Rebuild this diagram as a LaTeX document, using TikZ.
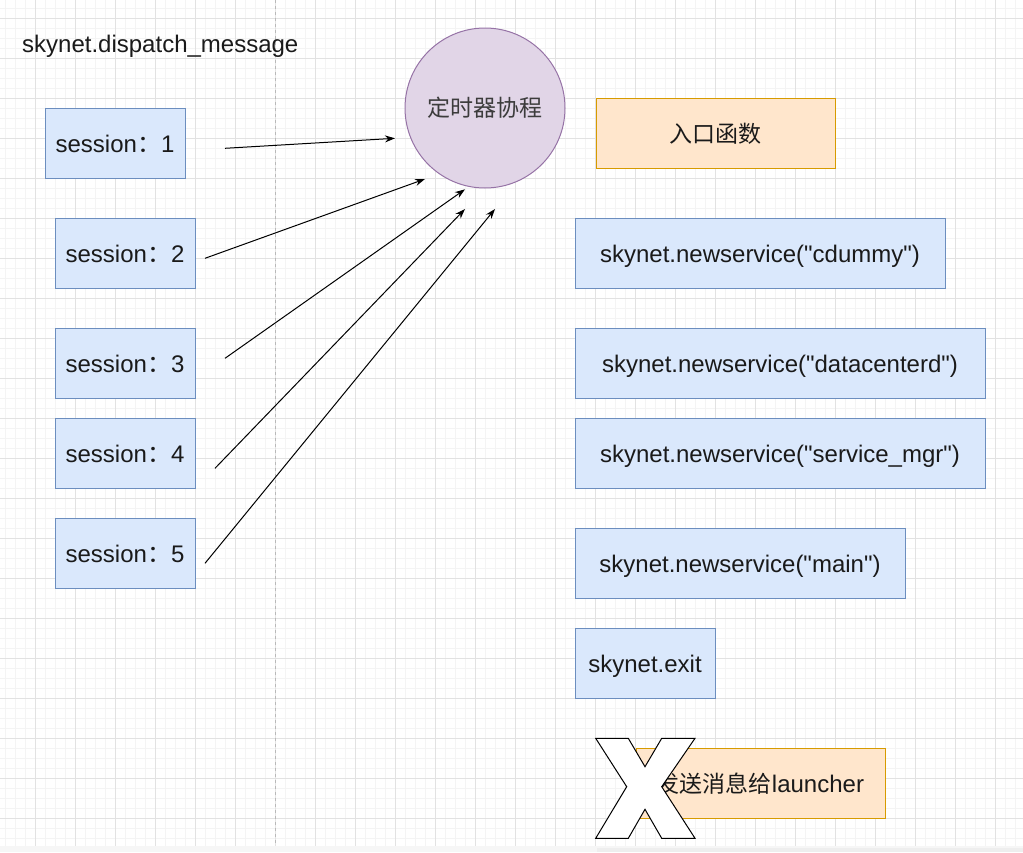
\documentclass[tikz,border=0pt]{standalone}
\usepackage{fontspec}
\setmainfont{Liberation Sans}[Ligatures=TeXOff]
\newfontfamily\cjk{Noto Sans CJK SC}
\usetikzlibrary{arrows.meta}
\definecolor{bfill}{HTML}{DAE8FC}
\definecolor{bline}{HTML}{6C8EBF}
\definecolor{ofill}{HTML}{FFE6CC}
\definecolor{oline}{HTML}{D79B00}
\definecolor{pfill}{HTML}{E1D5E7}
\definecolor{pline}{HTML}{9673A6}
\definecolor{gmin}{HTML}{F4F4F4}
\definecolor{gmaj}{HTML}{E2E2E2}
\definecolor{txt}{HTML}{1A1A1A}
\tikzset{
  bbox/.style={draw=bline, fill=bfill, line width=1pt, minimum height=70pt, inner sep=0pt, text height=21pt, text depth=2.4pt, font=\fontsize{24}{28}\selectfont, text=txt},
  obox/.style={draw=oline, fill=ofill, line width=1pt, minimum height=70pt, inner sep=0pt, text height=21pt, text depth=2.4pt, font=\fontsize{24}{28}\selectfont, text=txt},
  conn/.style={draw=black, line width=1pt, -{Stealth[length=10pt,width=7pt]}},
}
\begin{document}
\begin{tikzpicture}[x=1pt,y=-1pt]
\useasboundingbox (0,0) rectangle (1023,852);
\fill[white] (0,0) rectangle (1023,852);
% grid
\foreach \x in {5,15,...,1015} \draw[gmin, line width=1pt] (\x,0) -- (\x,846);
\foreach \y in {8,18,...,838} \draw[gmin, line width=1pt] (0,\y) -- (1023,\y);
\foreach \x in {35,75,...,1015} \draw[gmaj, line width=1pt] (\x,0) -- (\x,846);
\foreach \y in {18,58,...,818} \draw[gmaj, line width=1pt] (0,\y) -- (1023,\y);
\draw[gray!55, line width=1pt, dash pattern=on 3pt off 3pt] (275,0) -- (275,846);
\fill[gray!7] (0,846) rectangle (1023,852);
\fill[gray!13] (597,848) rectangle (1023,852);

\node[anchor=base west, inner sep=0pt, font=\fontsize{24}{28}\selectfont, text=txt] (title) at (22,52) {skynet.dispatch\_message};

\node[bbox, minimum width=140pt] (s1) at (115,143) {session{\cjk ：}1};
\node[bbox, minimum width=140pt] (s2) at (125,253) {session{\cjk ：}2};
\node[bbox, minimum width=140pt] (s3) at (125,363) {session{\cjk ：}3};
\node[bbox, minimum width=140pt] (s4) at (125,453) {session{\cjk ：}4};
\node[bbox, minimum width=140pt] (s5) at (125,553) {session{\cjk ：}5};

\node[circle, draw=pline, fill=pfill, line width=1pt, minimum size=160pt, inner sep=0pt, font=\fontsize{23}{28}\selectfont\cjk, text=txt!85] (timer) at (485,108) {定时器协程};

\node[obox, minimum width=239pt, font=\fontsize{23}{28}\selectfont\cjk] (entry) at (715.5,133) {入口函数};
\node[bbox, minimum width=370pt] (n1) at (760,253) {skynet.newservice("cdummy")};
\node[bbox, minimum width=410pt] (n2) at (780,363) {skynet.newservice("datacenterd")};
\node[bbox, minimum width=410pt] (n3) at (780,453) {skynet.newservice("service\_mgr")};
\node[bbox, minimum width=330pt] (n4) at (740,563) {skynet.newservice("main")};
\node[bbox, minimum width=140pt] (ex) at (645,663) {skynet.exit};
\node[obox, minimum width=249pt] (launch) at (760.5,783) {{\cjk\fontsize{23}{28}\selectfont 发送消息给}launcher};

% arrows
\coordinate (a1) at (225,148.3);
\coordinate (b1) at (395,138.3);
\coordinate (a2) at (205,258.3);
\coordinate (b2) at (425,179);
\coordinate (a3) at (225,358.3);
\coordinate (b3) at (465,189.3);
\coordinate (a4) at (215,468.3);
\coordinate (b4) at (465,209);
\coordinate (a5) at (205,563.3);
\coordinate (b5) at (495,209);
\draw[conn] (a1) -- (b1);
\draw[conn] (a2) -- (b2);
\draw[conn] (a3) -- (b3);
\draw[conn] (a4) -- (b4);
\draw[conn] (a5) -- (b5);

% X mark
\draw[black, fill=white, line width=1pt, line join=miter]
  (595.7,738.3) -- (628.3,738.3) -- (645,766.7) -- (661.7,738.3) -- (695,738.3)
  -- (661.7,786.7) -- (695,838.3) -- (661.7,838.3) -- (645,809.3) -- (628.3,838.3)
  -- (595.7,838.3) -- (626.7,786.7) -- cycle;
\end{tikzpicture}
\end{document}
